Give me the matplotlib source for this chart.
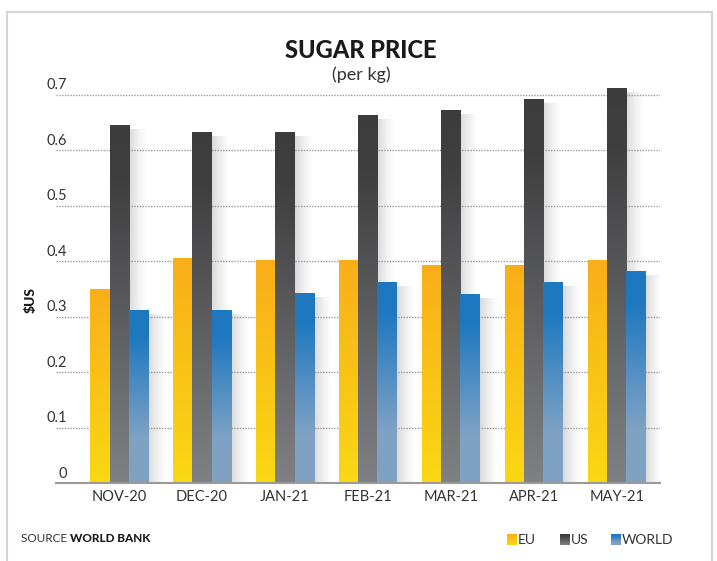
import matplotlib.pyplot as plt
import numpy as np
from matplotlib.colors import LinearSegmentedColormap
from matplotlib.patches import Rectangle
import matplotlib.transforms as mtransforms

months = ["NOV-20", "DEC-20", "JAN-21", "FEB-21", "MAR-21", "APR-21", "MAY-21"]
eu = [0.35, 0.405, 0.402, 0.402, 0.393, 0.393, 0.402]
us = [0.645, 0.632, 0.632, 0.663, 0.672, 0.692, 0.712]
world = [0.312, 0.312, 0.342, 0.362, 0.34, 0.362, 0.382]
series_names = ["EU", "US", "WORLD"]
yticks = [0, 0.1, 0.2, 0.3, 0.4, 0.5, 0.6, 0.7]

# gradient colours, top -> bottom
grads = {
    "EU": [(0.0, "#F9AE1A"), (1.0, "#F9D813")],
    "US": [(0.0, "#3C3C3C"), (0.15, "#3F3F40"), (1.0, "#808185")],
    "WORLD": [(0.0, "#1E78C0"), (0.15, "#1E78C0"), (0.75, "#7FA2C4"), (1.0, "#7FA2C4")],
}


def grad_img(stops, n=256):
    cmap = LinearSegmentedColormap.from_list("g", [(p, c) for p, c in stops])
    col = cmap(np.linspace(0, 1, n))[:, :3]
    return col.reshape(n, 1, 3)


plt.rcParams['font.family'] = ['Lato', 'DejaVu Sans']

W, H = 717, 561
fig = plt.figure(figsize=(W / 100, H / 100), dpi=100)


def fx(px):
    return px / W


def fy(py):
    return 1 - py / H


# outer frame
fig.patches.append(Rectangle((fx(7), fy(575)), fx(712) - fx(7), fy(12) - fy(575),
                             transform=fig.transFigure, fill=False,
                             edgecolor="#d4d4d4", lw=1.5))

ymax = 0.75
ax = fig.add_axes([fx(56), fy(483), fx(660) - fx(56), ymax * 555 / H])
x = np.arange(len(months))
bw = 0.23
xlim = (-0.76, 6.52)

# dotted grid lines
for t in yticks[1:]:
    ax.plot(xlim, [t, t], color="#9a9a9a", lw=1.0, ls=(0, (1, 1)), zorder=1)

# y labels, sitting above grid lines
ytr = mtransforms.blended_transform_factory(ax.transAxes, ax.transData)
for t in yticks:
    lab = "0" if t == 0 else f"{t:.1f}"
    ax.text(0.018, t + 0.017, lab, transform=ytr,
            ha="right", va="center", fontsize=10.5, color="#333333")

# soft shadows to the right of the bars
shadow = np.zeros((1, 64, 4))
shadow[..., :3] = 0.55
shadow[0, :, 3] = np.linspace(0.42, 0.0, 64) ** 1.3
for i in range(len(months)):
    for off, vals in zip([-bw, 0, bw], [eu, us, world]):
        x1 = x[i] + off + bw / 2
        ax.imshow(shadow, extent=[x1, x1 + 0.22, 0, vals[i] - 0.008], aspect="auto", zorder=2,
                  interpolation="bilinear")

for off, vals, name in zip([-bw, 0, bw], [eu, us, world], series_names):
    bars = ax.bar(x + off, vals, bw, color="none", edgecolor="none", zorder=3)
    img = grad_img(grads[name])
    for r in bars:
        im = ax.imshow(img, extent=[r.get_x(), r.get_x() + r.get_width(), 0, r.get_height()],
                       aspect="auto", zorder=3, interpolation="bilinear")
        im.set_clip_path(r)

ax.set_xlim(*xlim)
ax.set_ylim(0, ymax)
for s in ["top", "right", "left"]:
    ax.spines[s].set_visible(False)
ax.spines["bottom"].set_color("#9a9a9a")
ax.spines["bottom"].set_linewidth(1.5)
ax.spines["bottom"].set_zorder(5)
ax.set_yticks([])
ax.set_xticks(x)
ax.set_xticklabels(months, fontsize=10.5, color="#333333")
ax.tick_params(axis="x", length=0, pad=5)

# titles
fig.text(fx(361), fy(50), "SUGAR PRICE", ha="center", va="center", fontsize=17,
         fontweight="black", color="#1a1a1a")
fig.text(fx(361), fy(75), "(per kg)", ha="center", va="center", fontsize=13, color="#333333")
fig.text(fx(31), fy(300), "$US", ha="center", va="center", rotation=90, fontsize=10,
         fontweight="black", color="#1a1a1a")

# source
t1 = fig.text(fx(21), fy(538), "SOURCE ", ha="left", va="center", fontsize=8.5, color="#333333")
fig.canvas.draw()
bb = t1.get_window_extent()
fig.text(bb.x1 / W, fy(538), "WORLD BANK", ha="left", va="center", fontsize=8.5,
         fontweight="black", color="#1a1a1a")

# legend
for px, name in zip([507, 560, 611], series_names):
    lax = fig.add_axes([fx(px), fy(545), 10 / W, 11 / H])
    lax.imshow(grad_img(grads[name]), aspect="auto", extent=[0, 1, 0, 1])
    lax.axis("off")
    fig.text(fx(px + 11), fy(540), name, ha="left", va="center", fontsize=10, color="#333333")

fig.savefig("out.png", dpi=100)
